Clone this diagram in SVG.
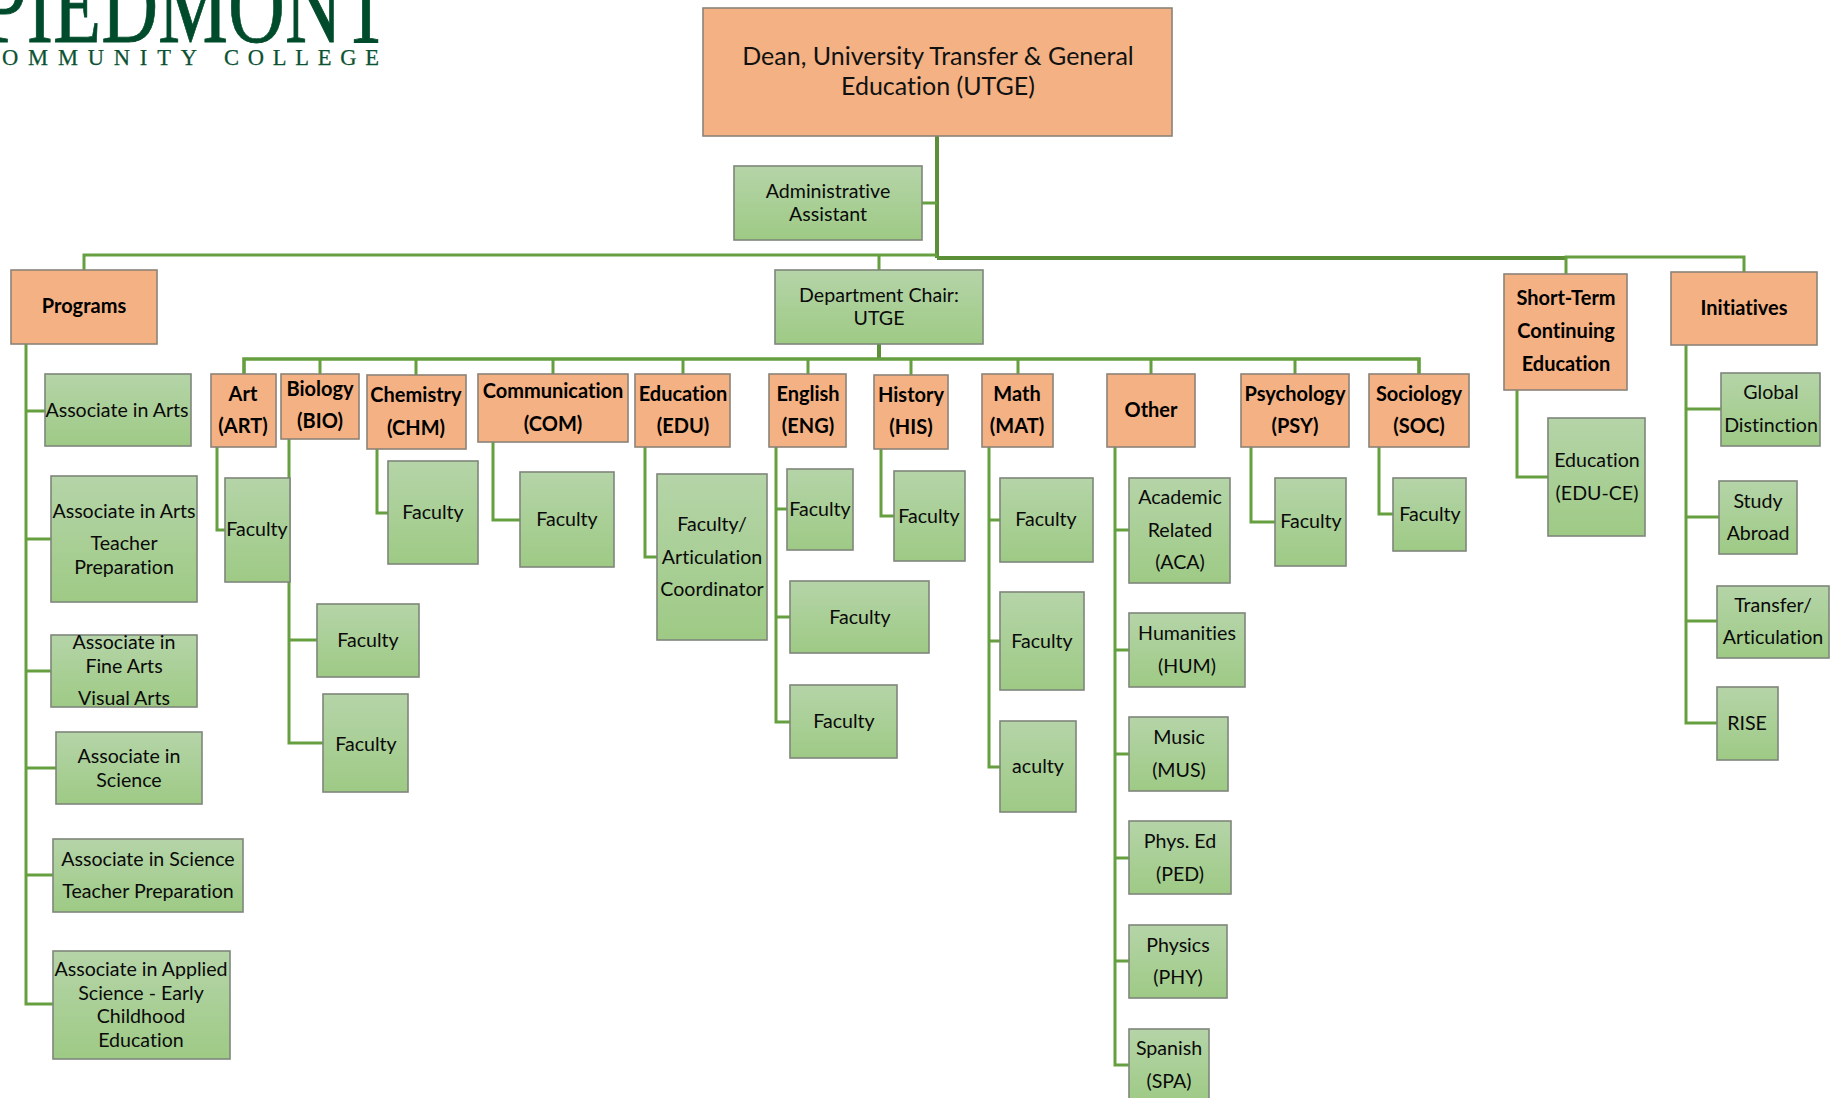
<svg xmlns="http://www.w3.org/2000/svg" width="1835" height="1098" viewBox="0 0 1835 1098">
<style>
.o rect{fill:#f4b183;stroke:#8c8377;stroke-width:1.6}
.g rect{fill:url(#gr);stroke:#7f867b;stroke-width:1.6}
text{font-family:"Lato","Carlito","Liberation Sans",sans-serif;font-size:19.6px;text-anchor:middle;fill:#0a0a0a;font-variant-ligatures:none}
.o text{font-weight:700;fill:#000;font-size:20px}
#dean text{font-size:25px;font-weight:400;fill:#111}
#connectors path{fill:none;stroke:#669f3f;stroke-width:3}
#connectors path.h{stroke:#5b8f38;stroke-width:4}
#connectors path.d{stroke:#669f3f;stroke-width:3.6}
.l1{font-family:"Liberation Serif",serif;font-size:108px;fill:#004b2b;text-anchor:start;stroke:#004b2b;stroke-width:.8}
.l2{font-family:"Liberation Serif",serif;font-size:22.5px;fill:#0a5232;text-anchor:start;stroke:#0a5232;stroke-width:.25}
</style>
<defs><linearGradient id="gr" x1="0" y1="0" x2="0" y2="1"><stop offset="0" stop-color="#b5d4a8"/><stop offset="1" stop-color="#9eca85"/></linearGradient></defs>
<rect width="1835" height="1098" fill="#fff"/>
<g id="logo">
<text class="l1" x="-17" y="42" textLength="407" lengthAdjust="spacingAndGlyphs">PIEDMONT</text>
<text class="l2" x="2" y="65" textLength="195" lengthAdjust="spacing">OMMUNITY</text>
<text class="l2" x="224" y="65" textLength="155" lengthAdjust="spacing">COLLEGE</text>
</g>
<g id="connectors">
<path class="h" d="M937 136V258"/>
<path d="M922 203H937"/>
<path d="M84 270V255H937"/>
<path d="M879 255V270"/>
<path class="h" d="M937 258H1566"/>
<path d="M1566 274V257H1744V272"/>
<path class="h" d="M879 344V359"/>
<path class="d" d="M244 374V359H1419V374"/>
<path d="M320 359V374M416 359V375M553 359V374M683 359V374M808 359V374M911 359V375M1018 359V374M1151 359V374M1295 359V374"/>
<path d="M26 344V1004H53M26 411H45M26 539H51M26 671H51M26 768H56M26 875H53"/>
<path d="M217 447V530H225"/>
<path d="M289 439V743H323M289 640H317"/>
<path d="M377 449V513H388"/>
<path d="M493 442V520H520"/>
<path d="M645 447V557H657"/>
<path d="M776 447V722H790M776 509H787M776 617H790"/>
<path d="M881 449V516H894"/>
<path d="M989 447V767H1000M989 520H1000M989 641H1000"/>
<path d="M1115 447V1065H1129M1115 530H1129M1115 650H1129M1115 754H1129M1115 858H1129M1115 961H1129"/>
<path d="M1251 447V522H1275"/>
<path d="M1379 447V514H1393"/>
<path d="M1517 390V477H1548"/>
<path d="M1686 345V723H1717M1686 409H1721M1686 517H1719M1686 621H1717"/>
</g>
<g id="dean" class="o"><rect x="703" y="8" width="469" height="128"/><text x="938" y="65">Dean, University Transfer &amp; General</text><text x="938" y="95">Education (UTGE)</text></g>
<g id="admin" class="g"><rect x="734" y="166" width="188" height="74"/><text x="828" y="198">Administrative</text><text x="828" y="221">Assistant</text></g>
<g id="chair" class="g"><rect x="775" y="270" width="208" height="74"/><text x="879" y="302">Department Chair:</text><text x="879" y="325">UTGE</text></g>
<g id="programs" class="o"><rect x="11" y="270" width="146" height="74"/><text x="84" y="313">Programs</text></g>
<g id="shortterm" class="o"><rect x="1504" y="274" width="123" height="116"/><text x="1566" y="305">Short-Term</text><text x="1566" y="338">Continuing</text><text x="1566" y="371">Education</text></g>
<g id="initiatives" class="o"><rect x="1671" y="272" width="146" height="73"/><text x="1744" y="315">Initiatives</text></g>
<g id="prog1" class="g"><rect x="45" y="374" width="146" height="72"/><text x="117" y="417">Associate in Arts</text></g>
<g id="prog2" class="g"><rect x="51" y="476" width="146" height="126"/><text x="124" y="518">Associate in Arts</text><text x="124" y="550">Teacher</text><text x="124" y="574">Preparation</text></g>
<g id="prog3" class="g"><rect x="51" y="635" width="146" height="72"/><text x="124" y="649">Associate in</text><text x="124" y="673">Fine Arts</text><text x="124" y="705">Visual Arts</text></g>
<g id="prog4" class="g"><rect x="56" y="732" width="146" height="72"/><text x="129" y="763">Associate in</text><text x="129" y="787">Science</text></g>
<g id="prog5" class="g"><rect x="53" y="839" width="190" height="73"/><text x="148" y="866">Associate in Science</text><text x="148" y="898">Teacher Preparation</text></g>
<g id="prog6" class="g"><rect x="53" y="951" width="177" height="108"/><text x="141" y="976">Associate in Applied</text><text x="141" y="1000">Science - Early</text><text x="141" y="1023">Childhood</text><text x="141" y="1047">Education</text></g>
<g id="art" class="o"><rect x="211" y="374" width="65" height="73"/><text x="243" y="401">Art</text><text x="243" y="433">(ART)</text></g>
<g id="art-f" class="g"><rect x="225" y="478" width="65" height="104"/><text x="257" y="536">Faculty</text></g>
<g id="bio" class="o"><rect x="281" y="374" width="78" height="65"/><text x="320" y="396">Biology</text><text x="320" y="428">(BIO)</text></g>
<g id="bio-f1" class="g"><rect x="317" y="604" width="102" height="73"/><text x="368" y="647">Faculty</text></g>
<g id="bio-f2" class="g"><rect x="323" y="694" width="85" height="98"/><text x="366" y="751">Faculty</text></g>
<g id="chm" class="o"><rect x="367" y="375" width="99" height="74"/><text x="416" y="402">Chemistry</text><text x="416" y="435">(CHM)</text></g>
<g id="chm-f" class="g"><rect x="388" y="461" width="90" height="103"/><text x="433" y="519">Faculty</text></g>
<g id="com" class="o"><rect x="478" y="374" width="150" height="68"/><text x="553" y="398">Communication</text><text x="553" y="431">(COM)</text></g>
<g id="com-f" class="g"><rect x="520" y="472" width="94" height="95"/><text x="567" y="526">Faculty</text></g>
<g id="edu" class="o"><rect x="635" y="374" width="95" height="73"/><text x="683" y="401">Education</text><text x="683" y="433">(EDU)</text></g>
<g id="edu-f" class="g"><rect x="657" y="474" width="110" height="166"/><text x="712" y="531">Faculty/</text><text x="712" y="564">Articulation</text><text x="712" y="596">Coordinator</text></g>
<g id="eng" class="o"><rect x="769" y="374" width="77" height="73"/><text x="808" y="401">English</text><text x="808" y="433">(ENG)</text></g>
<g id="eng-f1" class="g"><rect x="787" y="469" width="66" height="81"/><text x="820" y="516">Faculty</text></g>
<g id="eng-f2" class="g"><rect x="790" y="581" width="139" height="72"/><text x="860" y="624">Faculty</text></g>
<g id="eng-f3" class="g"><rect x="790" y="685" width="107" height="73"/><text x="844" y="728">Faculty</text></g>
<g id="his" class="o"><rect x="874" y="375" width="74" height="74"/><text x="911" y="402">History</text><text x="911" y="434">(HIS)</text></g>
<g id="his-f" class="g"><rect x="894" y="471" width="71" height="90"/><text x="929" y="523">Faculty</text></g>
<g id="mat" class="o"><rect x="982" y="374" width="71" height="73"/><text x="1017" y="401">Math</text><text x="1017" y="433">(MAT)</text></g>
<g id="mat-f1" class="g"><rect x="1000" y="478" width="93" height="84"/><text x="1046" y="526">Faculty</text></g>
<g id="mat-f2" class="g"><rect x="1000" y="592" width="84" height="98"/><text x="1042" y="648">Faculty</text></g>
<g id="mat-f3" class="g"><rect x="1000" y="721" width="76" height="91"/><text x="1038" y="773">aculty</text></g>
<g id="oth" class="o"><rect x="1107" y="374" width="88" height="73"/><text x="1151" y="417">Other</text></g>
<g id="aca" class="g"><rect x="1129" y="478" width="101" height="105"/><text x="1180" y="504">Academic</text><text x="1180" y="537">Related</text><text x="1180" y="569">(ACA)</text></g>
<g id="hum" class="g"><rect x="1129" y="613" width="116" height="74"/><text x="1187" y="640">Humanities</text><text x="1187" y="673">(HUM)</text></g>
<g id="mus" class="g"><rect x="1129" y="717" width="99" height="74"/><text x="1179" y="744">Music</text><text x="1179" y="777">(MUS)</text></g>
<g id="ped" class="g"><rect x="1129" y="821" width="102" height="73"/><text x="1180" y="848">Phys. Ed</text><text x="1180" y="881">(PED)</text></g>
<g id="phy" class="g"><rect x="1129" y="925" width="98" height="73"/><text x="1178" y="952">Physics</text><text x="1178" y="984">(PHY)</text></g>
<g id="spa" class="g"><rect x="1129" y="1029" width="80" height="74"/><text x="1169" y="1055">Spanish</text><text x="1169" y="1088">(SPA)</text></g>
<g id="psy" class="o"><rect x="1241" y="374" width="108" height="73"/><text x="1295" y="401">Psychology</text><text x="1295" y="433">(PSY)</text></g>
<g id="psy-f" class="g"><rect x="1275" y="478" width="71" height="88"/><text x="1311" y="528">Faculty</text></g>
<g id="soc" class="o"><rect x="1369" y="374" width="100" height="73"/><text x="1419" y="401">Sociology</text><text x="1419" y="433">(SOC)</text></g>
<g id="soc-f" class="g"><rect x="1393" y="478" width="73" height="73"/><text x="1430" y="521">Faculty</text></g>
<g id="educe" class="g"><rect x="1548" y="418" width="97" height="118"/><text x="1597" y="467">Education</text><text x="1597" y="500">(EDU-CE)</text></g>
<g id="global" class="g"><rect x="1721" y="373" width="99" height="73"/><text x="1771" y="399">Global</text><text x="1771" y="432">Distinction</text></g>
<g id="study" class="g"><rect x="1719" y="481" width="78" height="73"/><text x="1758" y="508">Study</text><text x="1758" y="540">Abroad</text></g>
<g id="transfer" class="g"><rect x="1717" y="586" width="112" height="72"/><text x="1773" y="612">Transfer/</text><text x="1773" y="644">Articulation</text></g>
<g id="rise" class="g"><rect x="1717" y="687" width="61" height="73"/><text x="1747" y="730">RISE</text></g>
</svg>
